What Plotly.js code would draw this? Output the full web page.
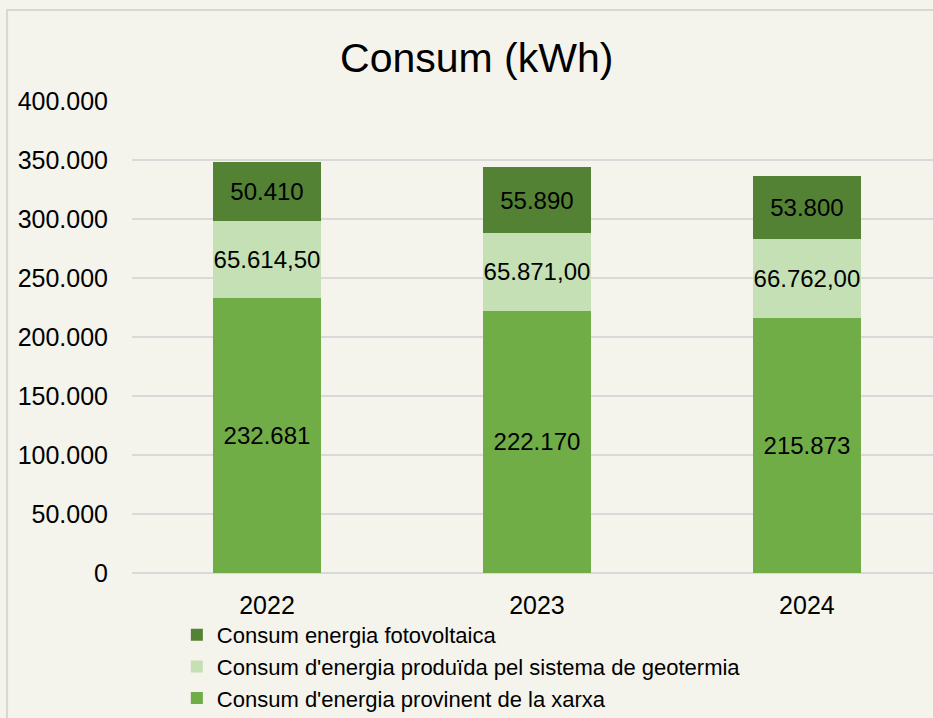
<!DOCTYPE html>
<html>
<head>
<meta charset="utf-8">
<script src="https://cdn.plot.ly/plotly-3.0.1.min.js"></script>
<style>
  html, body { margin: 0; padding: 0; background: #f4f3ec; overflow: hidden; }
</style>
</head>
<body>
<div id="chart" style="width: 933px; height: 718px;"></div>
<script>
const years = ['2022', '2023', '2024'];
const xarxa = [232681, 222170, 215873];
const geotermia = [65614.5, 65871, 66762];
const fotovoltaica = [50410, 55890, 53800];
const yTicks = [0, 50000, 100000, 150000, 200000, 250000, 300000, 350000, 400000];

const BG = '#f4f3ec';
const labelFont = {family: 'Liberation Sans, Arial, sans-serif', size: 24, color: '#000'};

function barTrace(name, values, color, template) {
  return {
    type: 'bar',
    name: name,
    x: years,
    y: values,
    width: 0.4,
    marker: {color: color},
    texttemplate: template,
    textposition: 'inside',
    insidetextanchor: 'middle',
    constraintext: 'none',
    textfont: labelFont,
    hoverinfo: 'skip'
  };
}

const data = [
  barTrace("Consum d'energia provinent de la xarxa", xarxa, '#70ad47', '%{y:,}'),
  barTrace("Consum d'energia produïda pel sistema de geotermia", geotermia, '#c5e0b4', '%{y:,.2f}'),
  barTrace('Consum energia fotovoltaica', fotovoltaica, '#548235', '%{y:,}')
];

const layout = {
  width: 933,
  height: 718,
  paper_bgcolor: BG,
  plot_bgcolor: BG,
  separators: ',.',
  barmode: 'stack',
  font: {family: 'Liberation Sans, Arial, sans-serif', color: '#000'},
  margin: {l: 132, r: 0, t: 101, b: 145},
  title: {
    text: 'Consum (kWh)',
    font: {size: 41, color: '#000'},
    x: 0.511,
    xanchor: 'center',
    xref: 'container',
    y: 1 - 58 / 718,
    yanchor: 'middle',
    yref: 'container'
  },
  xaxis: {
    type: 'category',
    range: [-0.5, 2.467],
    showgrid: false,
    showline: false,
    ticks: 'outside',
    ticklen: 10,
    tickcolor: 'rgba(0,0,0,0)',
    tickfont: {size: 25}
  },
  yaxis: {
    range: [0, 400000],
    tickvals: yTicks,
    tickformat: ',d',
    showgrid: true,
    gridcolor: '#d9d9d9',
    gridwidth: 2,
    zeroline: true,
    zerolinecolor: '#d9d9d9',
    zerolinewidth: 2,
    ticks: 'outside',
    ticklen: 18,
    tickcolor: 'rgba(0,0,0,0)',
    tickfont: {size: 25}
  },
  showlegend: true,
  legend: {
    orientation: 'v',
    traceorder: 'reversed',
    x: 0.056,
    xanchor: 'left',
    xref: 'paper',
    y: 1 - 614 / 718,
    yanchor: 'top',
    yref: 'container',
    bgcolor: 'rgba(0,0,0,0)',
    font: {size: 22, color: '#000'}
  },
  shapes: [{
    type: 'rect',
    xref: 'paper',
    yref: 'paper',
    x0: -0.156,
    x1: 1.2,
    y0: -0.5,
    y1: 1.1928,
    line: {color: '#d8d8d3', width: 2},
    layer: 'below'
  }]
};

Plotly.newPlot('chart', data, layout, {displayModeBar: false, staticPlot: true});
</script>
</body>
</html>
